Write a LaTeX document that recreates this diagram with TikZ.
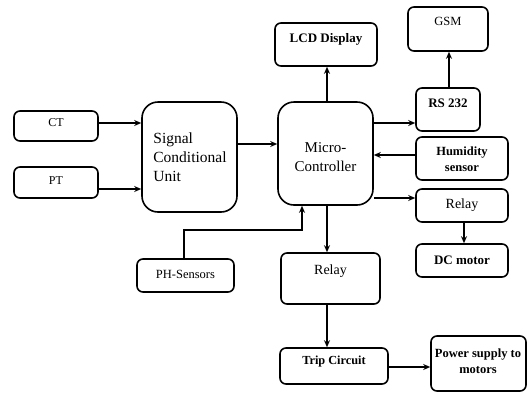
\documentclass[tikz,border=0pt]{standalone}
\usepackage{fontspec}
\setmainfont{Liberation Serif}
\usetikzlibrary{fit,arrows.meta}
\begin{document}
\begin{tikzpicture}[x=1pt,y=-1pt,
  box/.style={draw, line width=1.6pt, rounded corners=6pt, inner sep=0pt, align=center},
  bigbox/.style={box, rounded corners=16pt},
  arr/.style={line width=1.5pt, -{Stealth[length=7pt,width=6pt]}},
]
\useasboundingbox[fill=white] (0,0) rectangle (528,392);
% boxes
\node[box, fit={(14,111) (98,141)}] (ct) {};
\node[font=\fontsize{12}{14}\selectfont] at (56,123) {CT};
\node[box, fit={(14,167) (98,198)}] (pt) {};
\node[font=\fontsize{12}{14}\selectfont] at (56,181) {PT};
\node[bigbox, fit={(142,102) (237,212)}] (sig) {};
\node[align=left, font=\fontsize{15.5}{19}\selectfont] at (190,157) {Signal\\Conditional\\Unit};
\node[bigbox, fit={(278,102) (373,205)}] (mc) {};
\node[font=\fontsize{15}{19}\selectfont, align=center] at (325.5,157) {Micro-\\Controller};
\node[box, fit={(275,23) (377,66)}] (lcd) {};
\node[font=\bfseries\fontsize{13}{15}\selectfont] at (326,39) {LCD Display};
\node[box, fit={(408,7) (488,51)}] (gsm) {};
\node[font=\fontsize{12.5}{14}\selectfont] at (448,21) {GSM};
\node[box, fit={(416,88) (480,131)}] (rs) {};
\node[font=\bfseries\fontsize{13}{15}\selectfont] at (448,103) {RS 232};
\node[box, fit={(416,137) (508,180)}] (hum) {};
\node[font=\bfseries\fontsize{12.5}{16}\selectfont, align=center] at (462,159) {Humidity\\sensor};
\node[box, fit={(416,189) (508,222)}] (relayr) {};
\node[font=\fontsize{14}{16}\selectfont] at (462,205) {Relay};
\node[box, fit={(416,244) (508,277)}] (dc) {};
\node[font=\bfseries\fontsize{13}{15}\selectfont] at (462,260) {DC motor};
\node[box, fit={(137,259) (234,292)}] (ph) {};
\node[font=\fontsize{12.5}{14}\selectfont] at (185.5,274) {PH-Sensors};
\node[box, fit={(281,253) (380,304)}] (relayl) {};
\node[font=\fontsize{14}{16}\selectfont] at (330.5,271) {Relay};
\node[box, fit={(280,348) (388,384)}] (trip) {};
\node[font=\bfseries\fontsize{12.3}{15}\selectfont] at (334,362) {Trip Circuit};
\node[box, fit={(431,336) (526,391)}] (pow) {};
\node[font=\bfseries\fontsize{12.5}{16}\selectfont, align=center] at (478,361) {Power supply to\\motors};
% connectors
\draw[arr] (ct.east |- 0,123) -- (sig.west |- 0,123);
\draw[arr] (pt.east |- 0,189) -- (sig.west |- 0,189);
\draw[arr] (sig.east |- 0,144) -- (mc.west |- 0,144);
\draw[arr] (mc.north -| 327,0) -- (lcd.south -| 327,0);
\draw[arr] (mc.east |- 0,123) -- (rs.west |- 0,123);
\draw[arr] (rs.north -| 449,0) -- (gsm.south -| 449,0);
\draw[arr] (hum.west |- 0,155) -- (mc.east |- 0,155);
\draw[arr] (mc.east |- 0,198) -- (relayr.west |- 0,198);
\draw[arr] (relayr.south -| 464,0) -- (dc.north -| 464,0);
\draw[arr] (mc.south -| 327,0) -- (relayl.north -| 327,0);
\draw[arr] (ph.north -| 184,0) |- (302,230) -- (mc.south -| 302,0);
\draw[arr] (relayl.south -| 327,0) -- (trip.north -| 327,0);
\draw[arr] (trip.east |- 0,367) -- (pow.west |- 0,367);
\end{tikzpicture}
\end{document}
